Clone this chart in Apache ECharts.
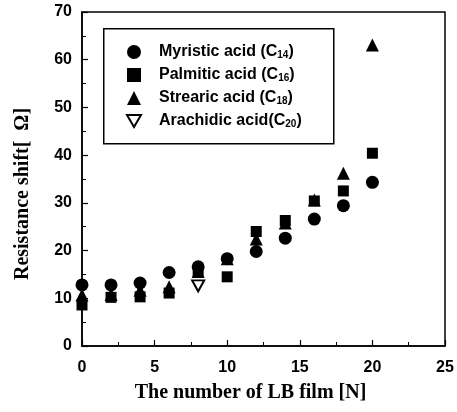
<!DOCTYPE html>
<html>
<head>
<meta charset="utf-8">
<script src="https://cdn.jsdelivr.net/npm/echarts@6/dist/echarts.min.js"></script>
<style>html,body{margin:0;padding:0;background:#fff}#c{width:457px;height:412px}</style>
</head>
<body>
<div id="c"></div>
<script>
// Data
const xMyristic = [0, 2, 4, 6, 8, 10, 12, 14, 16, 18, 20];
const yMyristic = [12.8, 12.8, 13.2, 15.4, 16.6, 18.3, 19.8, 22.6, 26.6, 29.4, 34.3];
const xPalmitic = [0, 2, 4, 6, 8, 10, 12, 14, 16, 18, 20];
const yPalmitic = [8.6, 10.2, 10.3, 11.1, 15.5, 14.5, 24.0, 26.3, 30.4, 32.5, 40.4];
const xStearic = [0, 2, 4, 6, 8, 10, 12, 14, 16, 18, 20];
const yStearic = [10.7, 10.8, 11.7, 12.4, 15.6, 18.3, 22.4, 25.8, 30.6, 36.2, 63.1];
const xArachidic = [8];
const yArachidic = [12.6];
const seriesNames = ['Myristic', 'Palmitic', 'Stearic', 'Arachidic'];
const legendLabels = {
  Myristic: ['Myristic acid (C', '14', ')'],
  Palmitic: ['Palmitic acid (C', '16', ')'],
  Stearic: ['Strearic acid (C', '18', ')'],
  Arachidic: ['Arachidic acid(C', '20', ')']
};
const xTicks = [0, 5, 10, 15, 20, 25];
const yTicks = [0, 10, 20, 30, 40, 50, 60, 70];

function pairs(xs, ys) { return xs.map((x, i) => [x, ys[i]]); }

const chart = echarts.init(document.getElementById('c'), null, {renderer: 'canvas'});
const tickFont = {fontFamily: 'Liberation Sans, Arial, sans-serif', fontWeight: 'bold', fontSize: 16, color: '#000'};
const titleFont = {fontFamily: 'Liberation Serif, Times New Roman, serif', fontWeight: 'bold', fontSize: 20, color: '#000'};
const downTriangle = 'path://M0,0 L12,0 L6,10.4 Z';

chart.setOption({
  animation: false,
  backgroundColor: '#fff',
  grid: {left: 82, right: 12, top: 12, bottom: 66, show: true, borderColor: '#000', borderWidth: 1.5, backgroundColor: 'transparent'},
  xAxis: {
    type: 'value', min: xTicks[0], max: xTicks[xTicks.length - 1], interval: 5,
    name: 'The number of LB film [N]', nameLocation: 'middle', nameGap: 37,
    nameTextStyle: Object.assign({padding: [0, 26, 0, 0]}, titleFont),
    axisLine: {lineStyle: {color: '#000', width: 1.5}},
    axisTick: {inside: true, length: 6, lineStyle: {color: '#000', width: 1.2}},
    minorTick: {show: true, splitNumber: 2, length: 4, lineStyle: {color: '#000', width: 1}},
    axisLabel: Object.assign({margin: 14}, tickFont),
    splitLine: {show: false}
  },
  yAxis: {
    type: 'value', min: yTicks[0], max: yTicks[yTicks.length - 1], interval: 10,
    name: 'Resistance shift[  Ω]', nameLocation: 'middle', nameGap: 49,
    nameTextStyle: Object.assign({padding: [0, 30, 0, 0]}, titleFont),
    axisLine: {lineStyle: {color: '#000', width: 1.5}},
    axisTick: {inside: true, length: 6, lineStyle: {color: '#000', width: 1.2}},
    minorTick: {show: true, splitNumber: 2, length: 4, lineStyle: {color: '#000', width: 1}},
    axisLabel: Object.assign({margin: 10}, tickFont),
    splitLine: {show: false}
  },
  legend: {
    orient: 'vertical', left: 126, top: 44, padding: 0,
    itemWidth: 14, itemHeight: 14, itemGap: 7,
    data: seriesNames,
    formatter: function (name) {
      const p = legendLabels[name];
      return '{a|' + p[0] + '}{s|' + p[1] + '}{a|' + p[2] + '}';
    },
    textStyle: {
      padding: [0, 0, 0, 13],
      rich: {
        a: {fontFamily: 'Liberation Sans, Arial, sans-serif', fontWeight: 'bold', fontSize: 16, color: '#000', lineHeight: 16},
        s: {fontFamily: 'Liberation Sans, Arial, sans-serif', fontWeight: 'bold', fontSize: 10, color: '#000', padding: [6, 0, 0, 0], lineHeight: 16}
      }
    }
  },
  graphic: [{
    type: 'rect', left: 103, top: 28, z: 0,
    shape: {width: 230, height: 115},
    style: {fill: '#fff', stroke: '#000', lineWidth: 1.5}
  }],
  series: [
    {name: 'Myristic', type: 'scatter', symbol: 'circle', symbolSize: 13, data: pairs(xMyristic, yMyristic), itemStyle: {color: '#000', opacity: 1}, z: 3},
    {name: 'Palmitic', type: 'scatter', symbol: 'rect', symbolSize: 11, data: pairs(xPalmitic, yPalmitic), itemStyle: {color: '#000', opacity: 1}, z: 4},
    {name: 'Stearic', type: 'scatter', symbol: 'triangle', symbolSize: 13, data: pairs(xStearic, yStearic), itemStyle: {color: '#000', opacity: 1}, z: 5},
    {name: 'Arachidic', type: 'scatter', symbol: downTriangle, symbolSize: [12, 11], data: pairs(xArachidic, yArachidic), itemStyle: {color: '#fff', borderColor: '#000', borderWidth: 2, opacity: 1}, z: 6}
  ]
});
</script>
</body>
</html>
